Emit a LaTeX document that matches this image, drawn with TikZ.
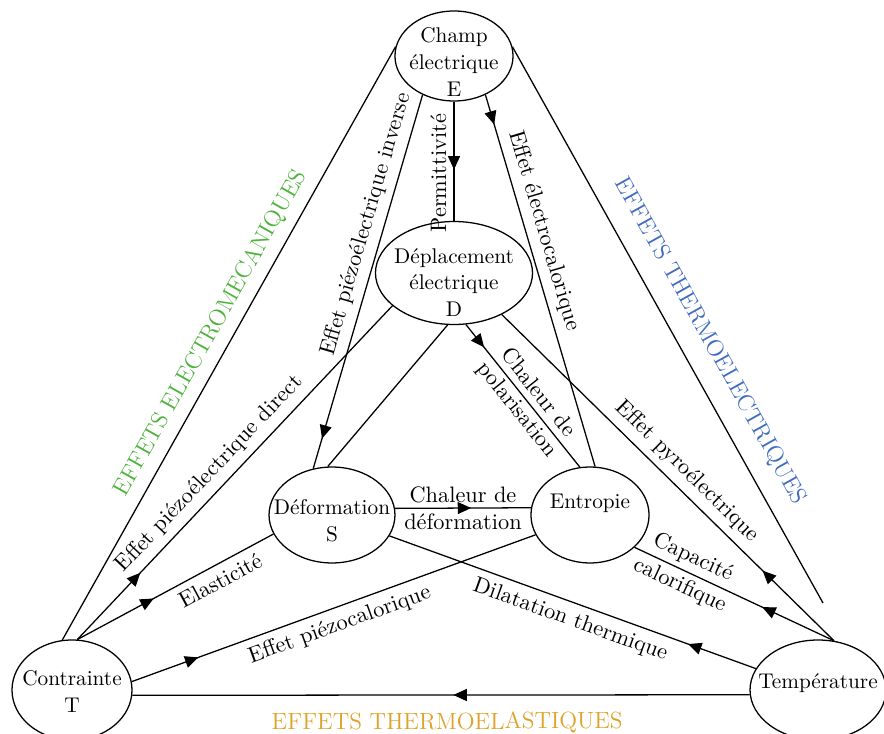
\documentclass[tikz,border=0pt]{standalone}
\usetikzlibrary{shapes.geometric,decorations.markings,arrows.meta}
\definecolor{emgreen}{RGB}{80,178,62}
\definecolor{teblue}{RGB}{66,108,190}
\definecolor{elorange}{RGB}{222,162,40}
\begin{document}
\begin{tikzpicture}[x=0.47pt,y=-0.47pt,
  bubble/.style={ellipse, draw, inner sep=0pt, line width=0.6pt},
  btext/.style={align=center, font=\fontsize{10}{12.5}\selectfont, inner sep=0pt},
  conn/.style={line width=0.6pt},
  arrowat/.style={postaction={decorate}, decoration={markings, mark=at position #1 with {\arrow{Triangle[length=6.3pt,width=5.6pt]}}}},
  elab/.style={font=\fontsize{10.5}{12.6}\selectfont},
  grouplab/.style={sloped, font=\fontsize{11}{13}\selectfont},
]
\useasboundingbox (0,0) rectangle (884,734);
% nodes
\node[bubble, minimum width=55.5pt, minimum height=42.3pt,
  label={[btext, yshift=-2.8pt]center:{Champ\\électrique\\E}}] (E) at (454,56) {};
\node[bubble, minimum width=73.8pt, minimum height=48.4pt,
  label={[btext, yshift=-4.5pt]center:{Déplacement\\électrique\\D}}] (D) at (454,273) {};
\node[bubble, minimum width=59.2pt, minimum height=45.1pt,
  label={[btext, yshift=-2.8pt]center:{Déformation\\S}}] (S) at (332,515) {};
\node[bubble, minimum width=55.5pt, minimum height=45.1pt,
  label={[btext, yshift=5.6pt]center:{Entropie}}] (En) at (590,515) {};
\node[bubble, minimum width=56.4pt, minimum height=47pt,
  label={[btext, yshift=-0.8pt]center:{Contrainte\\T}}] (T) at (72,690) {};
\node[bubble, minimum width=63.9pt, minimum height=47pt,
  label={[btext, yshift=3pt]center:{Température}}] (Th) at (818,690) {};
\coordinate (R) at (823,603);

% outer lines
\draw[conn] (T.101) -- node[grouplab, pos=0.5, above=1pt, text=emgreen] {EFFETS ELECTROMECANIQUES} (E.171);
\draw[conn] (E.9) -- node[grouplab, pos=0.555, above=5pt, text=teblue] {EFFETS THERMOELECTRIQUES} (R);
\draw[conn, arrowat=0.48] (Th.184) -- node[grouplab, pos=0.49, below=4.5pt, text=elorange] {EFFETS THERMOELASTIQUES} (T.355);

% electrical
\draw[conn, arrowat=0.57] (E.270) -- node[elab, pos=0.6, rotate=90, above] {Permittivité} (D.90);
\draw[conn, arrowat=0.08] (E.309) -- node[elab, sloped, pos=0.38, above] {Effet électrocalorique} (En.84);
\draw[conn, arrowat=0.92] (E.231) -- node[elab, sloped, pos=0.36, above] {Effet piézoélectrique inverse} (S.112);
\draw[conn] (D.263) -- (S.95);
\draw[conn, arrowat=0.16] (D.283) -- node[elab, sloped, pos=0.54, align=center] {Chaleur de\\polarisation} (En.102);

% from temperature
\draw[conn, arrowat=0.215] (Th.72) -- node[elab, sloped, pos=0.48, above] {Effet pyroélectrique} (D.319);
\draw[conn, arrowat=0.36] (Th.72) -- node[elab, sloped, pos=0.74, align=center] {Capacité\\[2pt]calorifique} (En.324);
\draw[conn, arrowat=0.185] (Th.161) -- node[elab, sloped, pos=0.49, below] {Dilatation thermique} (S.340);

% strain / entropy
\draw[conn, arrowat=0.56] (S.6) -- node[elab, midway, align=center] {Chaleur de\\déformation} (En.173);

% from stress
\draw[conn, arrowat=0.165] (T.8) -- node[elab, sloped, pos=0.5, below] {Effet piézocalorique} (En.200);
\draw[conn, arrowat=0.39] (T.84) -- node[elab, sloped, pos=0.69, below] {Elasticité} (S.198);
\draw[conn, arrowat=0.2] (T.84) -- node[elab, sloped, pos=0.46, above] {Effet piézoélectrique direct} (D.208);
\end{tikzpicture}
\end{document}
